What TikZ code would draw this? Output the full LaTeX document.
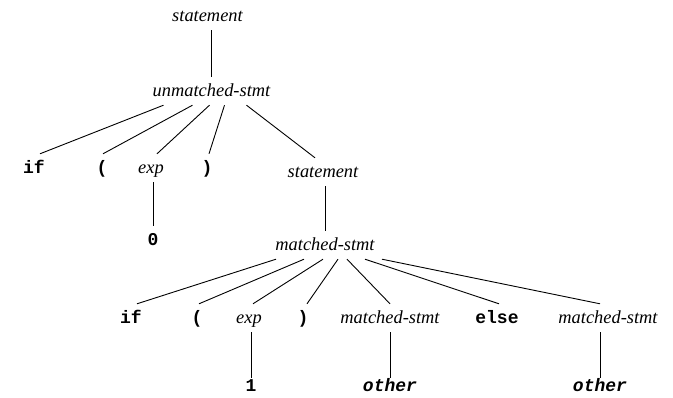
\documentclass[tikz,border=0pt]{standalone}
\usepackage{fontspec}
\setmainfont{Liberation Serif}
\setmonofont{Liberation Mono}
\begin{document}
\begin{tikzpicture}[x=1pt,y=-1pt,
  every node/.style={anchor=base,inner sep=0pt,text height=20pt,text depth=8pt,
    font=\fontsize{18.4}{20}\selectfont},
  nt/.style={font=\fontsize{18.4}{20}\selectfont\itshape},
  tok/.style={font=\fontsize{18}{20}\selectfont\ttfamily\bfseries},
  tokit/.style={font=\fontsize{18}{20}\selectfont\ttfamily\bfseries\itshape},
  leaf/.style={text height=14pt,text depth=0pt},
  edge/.style={line width=0.9pt}]
\useasboundingbox (0,0) rectangle (673,398);

% upper tree
\node[nt]  (s1)   at (207.5,22)  {statement};
\node[nt]  (um)   at (211.5,97)  {unmatched-stmt};
\node[tok] (if1)  at (34,174)    {if};
\node[tok] (lp1)  at (102,174)   {(};
\node[nt]  (exp1) at (151,174)   {exp};
\node[tok] (rp1)  at (207,174)   {)};
\node[nt]  (s2)   at (323,178)   {statement};
\node[tok] (zero) at (153,246)   {0};

% lower tree
\node[nt]  (ms)   at (325,251)   {matched-stmt};
\node[tok] (if2)  at (131,324)   {if};
\node[tok] (lp2)  at (197,324)   {(};
\node[nt]  (exp2) at (249,324)   {exp};
\node[tok] (rp2)  at (303,324)   {)};
\node[nt]  (ms2)  at (390,324)   {matched-stmt};
\node[tok] (els)  at (497,324)   {else};
\node[nt]  (ms3)  at (608,324)   {matched-stmt};
\node[tok,leaf]   (one)    at (251,392) {1};
\node[tokit,leaf] (other1) at (390,392) {other};
\node[tokit,leaf] (other2) at (600,392) {other};

% edges
\draw[edge] (s1.south -| um.south) -- (um.north);
\draw[edge] ([xshift=-48pt]um.south) -- ([xshift=6pt]if1.north);
\draw[edge] ([xshift=-19pt]um.south) -- ([xshift=1pt]lp1.north);
\draw[edge] ([xshift=-2pt]um.south)  -- ([xshift=6pt]exp1.north);
\draw[edge] ([xshift=13pt]um.south)  -- ([xshift=2pt]rp1.north);
\draw[edge] ([xshift=35pt]um.south)  -- ([xshift=-8pt]s2.north);
\draw[edge] (exp1.south -| zero.north) -- (zero.north);
\draw[edge] (s2.south -| ms.north) -- (ms.north);

\draw[edge] ([xshift=-49pt]ms.south) -- ([xshift=6pt]if2.north);
\draw[edge] ([xshift=-21pt]ms.south) -- ([xshift=2pt]lp2.north);
\draw[edge] ([xshift=-2pt]ms.south)  -- ([xshift=4pt]exp2.north);
\draw[edge] ([xshift=13pt]ms.south)  -- ([xshift=4pt]rp2.north);
\draw[edge] ([xshift=22pt]ms.south)  -- (ms2.north);
\draw[edge] ([xshift=40pt]ms.south)  -- ([xshift=2pt]els.north);
\draw[edge] ([xshift=57pt]ms.south)  -- ([xshift=-8pt]ms3.north);
\draw[edge] (exp2.south -| one.north) -- (one.north);
\draw[edge] (ms2.south) -- (other1.north);
\draw[edge] (ms3.south -| other2.north) -- (other2.north);
\end{tikzpicture}
\end{document}
